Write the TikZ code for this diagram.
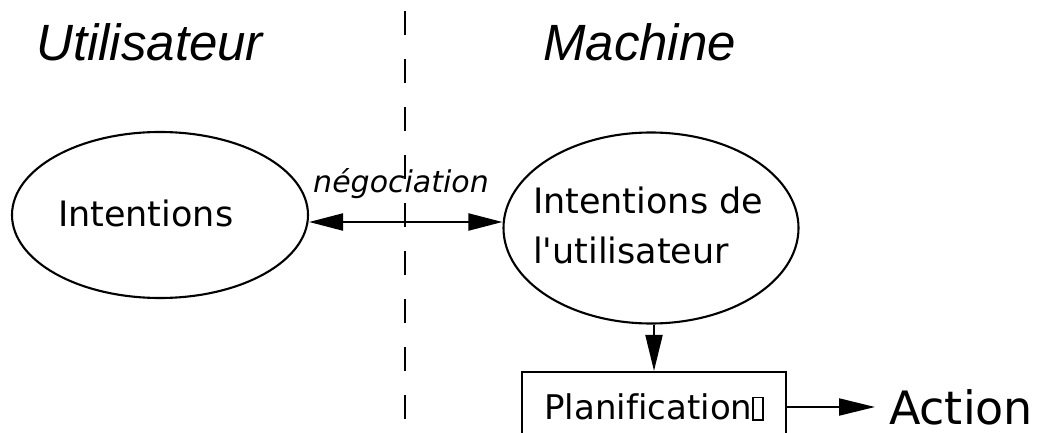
\documentclass[tikz,border=0pt]{standalone}
\usepackage{fontspec}
\setmainfont{DejaVu Sans}[Ligatures={TeXOff,NoCommon}]
\newfontfamily\headfont{Liberation Sans}
\usetikzlibrary{arrows.meta,shapes.geometric}
\tikzset{
  ell/.style={ellipse, draw, line width=2.1pt, inner sep=0pt},
  txt/.style={inner sep=0pt, outer sep=0pt, font=\fontsize{35}{50}\selectfont},
  head/.style={inner sep=0pt, font=\headfont\itshape\fontsize{51}{60}\selectfont},
  conn/.style={line width=2.1pt, -{Triangle[length=36pt,width=17pt]}},
  biconn/.style={line width=2.1pt, {Triangle[length=34pt,width=17pt]}-{Triangle[length=34pt,width=17pt]}},
  plan/.style={draw, line width=2.1pt, minimum width=264pt, minimum height=70pt, inner sep=0pt, font=\fontsize{34}{40}\selectfont},
  divider/.style={line width=2.2pt, dash pattern=on 24pt off 24pt}
}
\begin{document}
\begin{tikzpicture}[x=1pt,y=-1pt]
\useasboundingbox (0,0) rectangle (1041,433);
\clip (0,0) rectangle (1041,433);
% divider
\coordinate (dtop) at (405,11);
\coordinate (dbot) at (405,445);
\draw[divider] (dtop) -- (dbot);
% headers
\node[head, anchor=base west] (hU) at (36,61) {Utilisateur};
\node[head, anchor=base west] (hM) at (543,61) {Machine};
% ellipses
\node[ell, minimum width=296pt, minimum height=166pt] (L) at (160,215) {};
\node[txt, anchor=base west] (Lt) at (58,226) {Intentions};
\node[ell, minimum width=295pt, minimum height=191pt] (R) at (651,228) {};
\node[txt, anchor=base west, align=left] (Rt) at (533,263) {Intentions de\\l'utilisateur};
% negotiation arrow
\draw[biconn] ([yshift=-7pt]L.east) -- ([yshift=-7pt]L.east -| R.west);
\node[inner sep=0pt, anchor=base, font=\itshape\fontsize{30}{36}\selectfont] (neg) at (401,192) {négociation};
% planification box
\node[plan] (P) at (654,407) {Planification{\setlength{\fboxsep}{0pt}\setlength{\fboxrule}{1.6pt}\fbox{\rule{0pt}{21pt}\hspace{8pt}}}};
\draw[conn] (R.south -| P.north) -- (P.north);
% action
\node[inner sep=0pt, inner xsep=14pt, outer sep=0pt, anchor=base west, font=\fontsize{46}{56}\selectfont] (A) at (875,424) {Action};
\draw[conn] (P.east) -- (P.east -| A.west);
\end{tikzpicture}
\end{document}
